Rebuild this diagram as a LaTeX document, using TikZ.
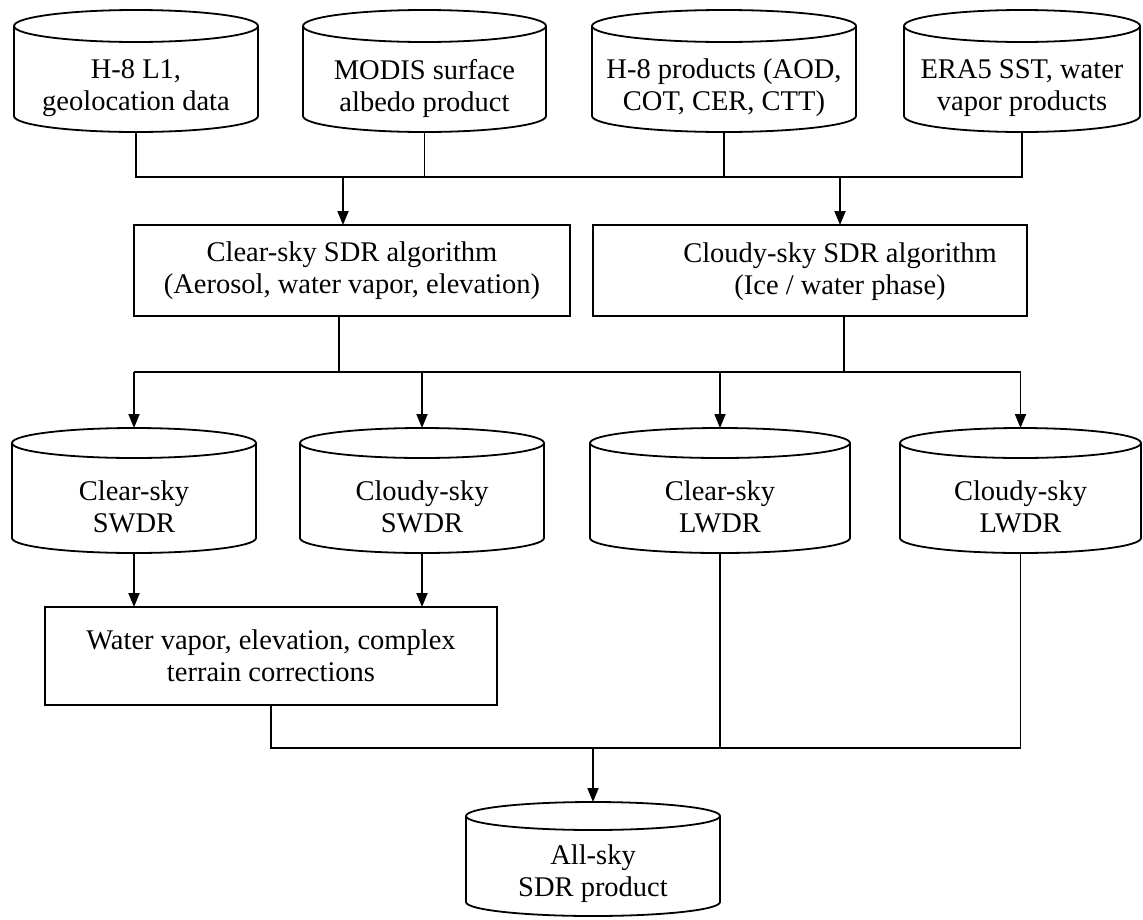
\documentclass[tikz,border=0pt]{standalone}
\usepackage{fontspec}
\setmainfont{Liberation Serif}
\usetikzlibrary{arrows.meta}
\tikzset{
  outline/.style={draw=black, line width=1.8pt},
  cylarea/.style={draw=none, inner sep=0pt, outer sep=0pt},
  txt/.style={align=center, font=\fontsize{28.5}{32}\selectfont, inner sep=0pt},
  procbox/.style={draw=black, line width=1.8pt, inner sep=0pt, outer sep=0pt,
    align=center, font=\fontsize{28.5}{32}\selectfont},
  conn/.style={line width=1.8pt},
  thinconn/.style={line width=1.2pt},
  arr/.style={line width=1.8pt, -{Triangle[length=14pt,width=11pt]}},
}
% name, left, right, top, bottom, ry, text
\newcommand\mycyl[7]{%
  \pgfmathsetmacro\cx{(#2+#3)/2}%
  \pgfmathsetmacro\cy{(#4+#5)/2}%
  \pgfmathsetmacro\rx{(#3-#2)/2}%
  \pgfmathsetmacro\cw{#3-#2}%
  \pgfmathsetmacro\ch{#5-#4}%
  \pgfmathsetmacro\ty{#4+#6}%
  \pgfmathsetmacro\by{#5-#6}%
  \pgfmathsetmacro\txty{(#4+2*#6+#5)/2+1}%
  \node[cylarea, minimum width=\cw pt, minimum height=\ch pt] (#1) at (\cx,\cy) {};
  \draw[outline, fill=white] (#2,\ty) -- (#2,\by) arc[start angle=180, end angle=360, x radius=\rx pt, y radius=#6 pt] -- (#3,\ty);
  \draw[outline] (\cx,\ty) ellipse[x radius=\rx pt, y radius=#6 pt];
  \node[txt] (#1-t) at (\cx,\txty) {#7};
}
\begin{document}
\begin{tikzpicture}[x=1pt,y=-1pt]
\useasboundingbox (0,0) rectangle (1143,919);
% top row
\mycyl{h8l1}{14}{258}{10}{132}{16}{H-8 L1,\\geolocation data}
\mycyl{modis}{303}{546}{10}{132}{16}{MODIS surface\\albedo product}
\mycyl{h8p}{592}{856}{10}{132}{16}{H-8 products (AOD,\\COT, CER, CTT)}
\mycyl{era}{904}{1140}{10}{132}{16}{ERA5 SST, water\\vapor products}
% algorithm boxes
\node[procbox, minimum width=436pt, minimum height=91pt] (clear) at (352,270.5)
  {Clear-sky SDR algorithm\\(Aerosol, water vapor, elevation)};
\node[procbox, minimum width=434pt, minimum height=91pt] (cloudy) at (810,270.5) {};
\node[txt] (cloudy-t) at (840,272) {Cloudy-sky SDR algorithm\\(Ice / water phase)};
% second row
\mycyl{csw}{12}{256}{428}{553}{15}{Clear-sky\\SWDR}
\mycyl{cdsw}{300}{544}{428}{553}{15}{Cloudy-sky\\SWDR}
\mycyl{clw}{590}{850}{428}{553}{15}{Clear-sky\\LWDR}
\mycyl{cdlw}{900}{1141}{428}{553}{15}{Cloudy-sky\\LWDR}
% corrections
\node[procbox, minimum width=452pt, minimum height=98pt] (corr) at (271,656)
  {Water vapor, elevation, complex\\terrain corrections};
% final
\mycyl{all}{466}{720}{802}{916}{14}{All-sky\\SDR product}
% junctions
\coordinate (h1) at (580,177);
\coordinate (h2) at (580,372);
\coordinate (h3) at (600,748);
% top connectors
\draw[conn] (h8l1.south) |- (h1) -| (era.south);
\draw[conn] (modis.south) -- (modis.south |- h1);
\draw[conn] (h8p.south) -- (h8p.south |- h1);
\draw[arr] ([xshift=-9pt]clear.north |- h1) -- ([xshift=-9pt]clear.north);
\draw[arr] ([xshift=30pt]cloudy.north |- h1) -- ([xshift=30pt]cloudy.north);
% middle connectors
\draw[conn] ([xshift=-13pt]clear.south) -- ([xshift=-13pt]clear.south |- h2);
\draw[conn] ([xshift=34pt]cloudy.south) -- ([xshift=34pt]cloudy.south |- h2);
\draw[conn] (csw.north |- h2) -- (cdlw.north |- h2);
\draw[arr] (csw.north |- h2) -- (csw.north);
\draw[arr] (cdsw.north |- h2) -- (cdsw.north);
\draw[arr] (clw.north |- h2) -- (clw.north);
\draw[arr] (cdlw.north |- h2) -- (cdlw.north);
% lower connectors
\draw[arr] (csw.south) -- (csw.south |- corr.north);
\draw[arr] (cdsw.south) -- (cdsw.south |- corr.north);
\draw[conn] (corr.south) |- (h3) -- (cdlw.south |- h3);
\draw[thinconn] (clw.south) -- (clw.south |- h3);
\draw[thinconn] (cdlw.south) -- (cdlw.south |- h3);
\draw[arr] (all.north |- h3) -- (all.north);
\end{tikzpicture}
\end{document}
